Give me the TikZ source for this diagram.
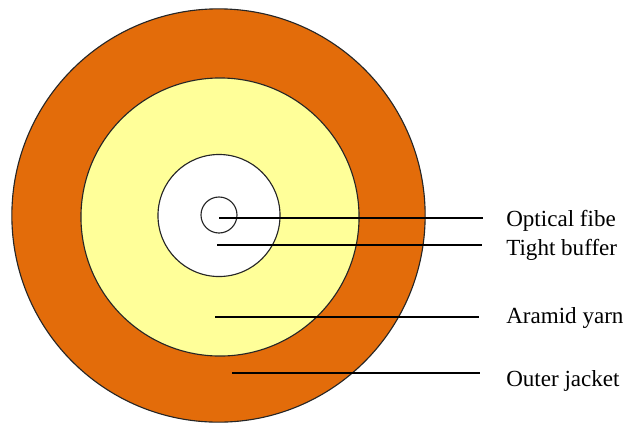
\documentclass[tikz,border=0pt]{standalone}
\usepackage{fontspec}
\setmainfont{Liberation Serif}
\usepackage{xcolor}
\usetikzlibrary{positioning}
\definecolor{jacketorange}{RGB}{227,108,10}
\definecolor{yarnyellow}{RGB}{255,255,153}

\begin{document}
\begin{tikzpicture}[
        x=0.025cm, y=-0.025cm,
        layer/.style={circle, draw=black!85, line width=0.8pt, inner sep=0pt},
        leader/.style={draw=black, line width=0.9pt},
        lbl/.style={anchor=base west, inner sep=0pt, font=\fontsize{16.4}{18}\selectfont}
      ]
        \useasboundingbox (0,0) rectangle (624,423);
        \node[layer, fill=jacketorange, minimum size=10.33cm] (jacket) at (218.5,215.5) {};
        \node[layer, fill=yarnyellow, minimum size=6.95cm] (yarn) at (220,217) {};
        \node[layer, fill=white, minimum size=3.05cm] (buffer) at (219,215.5) {};
        \node[layer, fill=white, minimum size=0.9cm] (fiber) at (219,215) {};
        % label column
        \node[lbl] (fiberlbl) at (506,226) {Optical fibe};
        \node[lbl] (bufferlbl) at (506,255) {Tight buffer};
        \node[lbl] (yarnlbl) at (506,323) {Aramid yarn};
        \node[lbl] (jacketlbl) at (506,386) {Outer jacket};
        % leader lines
        \coordinate (fiberin) at (219,218);
        \coordinate (fiberout) at (483,218);
        \coordinate (bufferin) at (217,245);
        \coordinate (bufferout) at (482,245);
        \coordinate (yarnin) at (215,317);
        \coordinate (yarnout) at (479,317);
        \coordinate (jacketin) at (232,373);
        \coordinate (jacketout) at (480,373);
        \draw[leader] (fiberin) -- (fiberout);
        \draw[leader] (bufferin) -- (bufferout);
        \draw[leader] (yarnin) -- (yarnout);
        \draw[leader] (jacketin) -- (jacketout);
      \end{tikzpicture}
\end{document}
